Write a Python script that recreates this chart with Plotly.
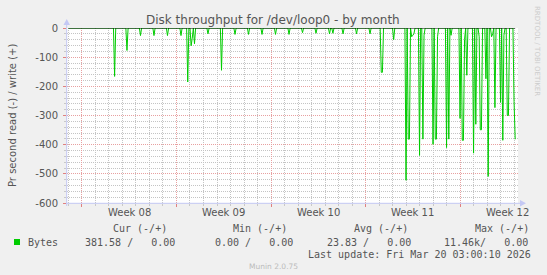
import plotly.graph_objects as go
import pandas as pd

# ---------------- data ----------------
series_start = "2026-02-15 00:00"
series_end = "2026-03-20 02:00"
series_step = "2h"

spike_times = [
    "2026-02-18 10:00", "2026-02-19 08:00", "2026-02-20 08:00", "2026-02-21 08:00",
    "2026-02-22 08:00", "2026-02-23 08:00", "2026-02-23 20:00", "2026-02-24 02:00",
    "2026-02-24 04:00", "2026-02-24 08:00", "2026-02-25 08:00", "2026-02-26 08:00",
    "2026-02-27 08:00", "2026-02-28 08:00", "2026-03-01 08:00", "2026-03-02 08:00",
    "2026-03-03 08:00", "2026-03-04 08:00", "2026-03-05 08:00", "2026-03-06 08:00",
    "2026-03-06 14:00", "2026-03-07 08:00", "2026-03-08 08:00", "2026-03-09 08:00",
    "2026-03-10 04:00", "2026-03-10 06:00", "2026-03-11 02:00",
    "2026-03-12 00:00", "2026-03-12 04:00", "2026-03-12 06:00", "2026-03-12 10:00",
    "2026-03-12 12:00", "2026-03-12 14:00",
    "2026-03-13 00:00", "2026-03-13 06:00", "2026-03-13 08:00",
    "2026-03-14 00:00", "2026-03-14 04:00", "2026-03-14 06:00", "2026-03-14 08:00",
    "2026-03-15 00:00", "2026-03-15 04:00", "2026-03-15 08:00",
    "2026-03-16 00:00", "2026-03-16 04:00", "2026-03-16 06:00", "2026-03-16 08:00",
    "2026-03-16 12:00",
    "2026-03-17 00:00", "2026-03-17 04:00", "2026-03-17 10:00", "2026-03-17 12:00",
    "2026-03-17 14:00", "2026-03-17 22:00",
    "2026-03-18 02:00", "2026-03-18 08:00", "2026-03-18 10:00", "2026-03-18 14:00",
    "2026-03-19 00:00", "2026-03-19 04:00", "2026-03-19 06:00", "2026-03-19 12:00",
    "2026-03-19 14:00", "2026-03-20 00:00", "2026-03-20 02:00",
]
spike_values = [
    -166, -77, -26, -26,
    -26, -26, -185, -61,
    -35, -54, -20, -145,
    -22, -22, -22, -22,
    -22, -16, -18, -20,
    -18, -20, -20, -20,
    -152, -152, -40,
    -522, -381, -381, -30,
    -25, -20,
    -437, -381, -25,
    -399, -381, -381, -30,
    -410, -381, -25,
    -310, -385, -385, -40,
    -162,
    -429, -330, -30, -349,
    -349, -174,
    -509, -30, -20, -273,
    -255, -385, -25, -300,
    -300, -252, -381.58,
]

week_starts = ["2026-02-16", "2026-02-23", "2026-03-02", "2026-03-09", "2026-03-16"]
week_centers = ["2026-02-19 12:00", "2026-02-26 12:00", "2026-03-05 12:00",
                "2026-03-12 12:00", "2026-03-19 12:00"]
week_labels = ["Week 08", "Week 09", "Week 10", "Week 11", "Week 12"]

y_ticks = [0, -100, -200, -300, -400, -500, -600]
y_tick_text = ["0", "-100", "-200", "-300", "-400", "-500", "-600"]

x_range = ["2026-02-14 21:24", "2026-03-20 07:00"]
y_range = [-600, 0]

title = "Disk throughput for /dev/loop0 - by month"
y_title = "Pr second read (-) / write (+)"
legend_name = "Bytes"
col_headers = ["Cur (-/+)", "Min (-/+)", "Avg (-/+)", "Max (-/+)"]
col_values = ["381.58 /   0.00", "0.00 /   0.00", "23.83 /   0.00", "11.46k/   0.00"]
last_update = "Last update: Fri Mar 20 03:00:10 2026"
footer = "Munin 2.0.75"
side_text = "RRDTOOL / TOBI OETIKER"

# ---------------- build series ----------------
times = pd.date_range(series_start, series_end, freq=series_step)
values = pd.Series(0.0, index=times)
for t, v in zip(spike_times, spike_values):
    values[pd.Timestamp(t)] = v

GREEN = "#00CC00"
FONT = "#555555"
AXIS = "#C4C8F4"
MINOR = "#C4C4C4"
MAJOR = "#E8A0A0"
DOT = "1px,1px"

fig = go.Figure()
fig.add_trace(go.Scatter(x=values.index, y=values.values, mode="lines",
                         line=dict(color=GREEN, width=1), hoverinfo="skip"))
fig.add_trace(go.Scatter(x=values.index, y=values.values * 0, mode="lines",
                         line=dict(color="#000000", width=1), hoverinfo="skip"))

W, H = 547, 275
L, R, T, B = 67, 518, 28, 203
PW, PH = R - L, B - T


def px(x):
    return (x - L) / PW


def py(y):
    return (B - y) / PH


fig.update_layout(
    width=W, height=H,
    margin=dict(l=L, r=W - R, t=T, b=H - B, pad=0),
    paper_bgcolor="#F0F0F0", plot_bgcolor="#FFFFFF",
    showlegend=False,
    font=dict(family="DejaVu Sans", size=10, color=FONT),
    xaxis=dict(
        type="date", range=x_range, tickvals=week_starts,
        ticktext=["" for _ in week_starts],
        showgrid=True, gridcolor=MAJOR, griddash=DOT, gridwidth=1,
        ticks="outside", ticklen=3, tickcolor="#E08080",
        showline=False, zeroline=False,
        minor=dict(dtick=86400000, tick0="2026-02-16", showgrid=True,
                   gridcolor=MINOR, griddash=DOT, gridwidth=1,
                   ticks="outside", ticklen=2, tickcolor="#C8C8C8"),
    ),
    yaxis=dict(
        range=y_range, tickvals=y_ticks, ticktext=y_tick_text,
        showgrid=True, gridcolor=MAJOR, griddash=DOT, gridwidth=1,
        ticks="outside", ticklen=3, tickcolor="#E08080",
        ticklabelstandoff=3,
        showline=False, zeroline=False,
        tickfont=dict(size=10, color=FONT),
        minor=dict(dtick=20, showgrid=True, gridcolor=MINOR,
                   griddash=DOT, gridwidth=1,
                   ticks="outside", ticklen=2, tickcolor="#C8C8C8"),
    ),
)

shapes = []
# axis lines with arrows
shapes.append(dict(type="line", xref="paper", yref="paper",
                   x0=px(L - 0.5), x1=px(522), y0=py(B + 0.3), y1=py(B + 0.3),
                   line=dict(color=AXIS, width=1), layer="above"))
shapes.append(dict(type="path", xref="paper", yref="paper",
                   path=f"M {px(520)} {py(B - 3)} L {px(526)} {py(B + 0.3)} L {px(520)} {py(B + 3.5)} Z",
                   fillcolor=AXIS, line=dict(color=AXIS, width=0), layer="above"))
shapes.append(dict(type="line", xref="paper", yref="paper",
                   x0=px(L - 0.3), x1=px(L - 0.3), y0=py(B + 3), y1=py(22),
                   line=dict(color=AXIS, width=1), layer="above"))
shapes.append(dict(type="path", xref="paper", yref="paper",
                   path=f"M {px(L - 3.5)} {py(25)} L {px(L - 0.3)} {py(19)} L {px(L + 3)} {py(25)} Z",
                   fillcolor=AXIS, line=dict(color=AXIS, width=0), layer="above"))
# legend colour box
shapes.append(dict(type="rect", xref="paper", yref="paper",
                   x0=px(14), x1=px(20), y0=py(245), y1=py(239),
                   fillcolor=GREEN, line=dict(color=GREEN, width=0)))
fig.update_layout(shapes=shapes)

ann = []
ann.append(dict(text=title, x=px(273), y=py(19.5), xref="paper", yref="paper",
                showarrow=False, xanchor="center", yanchor="middle",
                font=dict(size=12, color=FONT)))
ann.append(dict(text=y_title, x=px(12), y=py(116), xref="paper", yref="paper",
                showarrow=False, xanchor="center", yanchor="middle", textangle=-90,
                font=dict(size=10, color=FONT)))
ann.append(dict(text=side_text, x=px(537), y=py(4), xref="paper", yref="paper",
                showarrow=False, xanchor="center", yanchor="top", textangle=90,
                font=dict(size=7, color="#CCCCCC")))
for c, lab in zip(week_centers, week_labels):
    ann.append(dict(text=lab, x=c, y=py(212), xref="x", yref="paper",
                    showarrow=False, xanchor="center", yanchor="middle",
                    font=dict(size=10, color=FONT)))

MONO = "DejaVu Sans Mono"
head_x = [111, 231, 352, 473]
val_x = [83, 213, 324.5, 442]
for hx, h in zip(head_x, col_headers):
    ann.append(dict(text=h, x=px(hx), y=py(228.6), xref="paper", yref="paper",
                    showarrow=False, xanchor="left", yanchor="middle",
                    font=dict(family=MONO, size=10, color=FONT)))
for vx, v in zip(val_x, col_values):
    ann.append(dict(text=v.replace(" ", "&nbsp;"), x=px(vx), y=py(242), xref="paper", yref="paper",
                    showarrow=False, xanchor="left", yanchor="middle",
                    font=dict(family=MONO, size=10, color=FONT)))
ann.append(dict(text=legend_name, x=px(26), y=py(242), xref="paper", yref="paper",
                showarrow=False, xanchor="left", yanchor="middle",
                font=dict(family=MONO, size=10, color=FONT)))
ann.append(dict(text=last_update, x=px(533), y=py(254.3), xref="paper", yref="paper",
                showarrow=False, xanchor="right", yanchor="middle",
                font=dict(family=MONO, size=10, color=FONT)))
ann.append(dict(text=footer, x=px(273), y=py(266.3), xref="paper", yref="paper",
                showarrow=False, xanchor="center", yanchor="middle",
                font=dict(size=7.5, color="#BBBBBB")))
fig.update_layout(annotations=ann)

fig.write_html("out.html")
